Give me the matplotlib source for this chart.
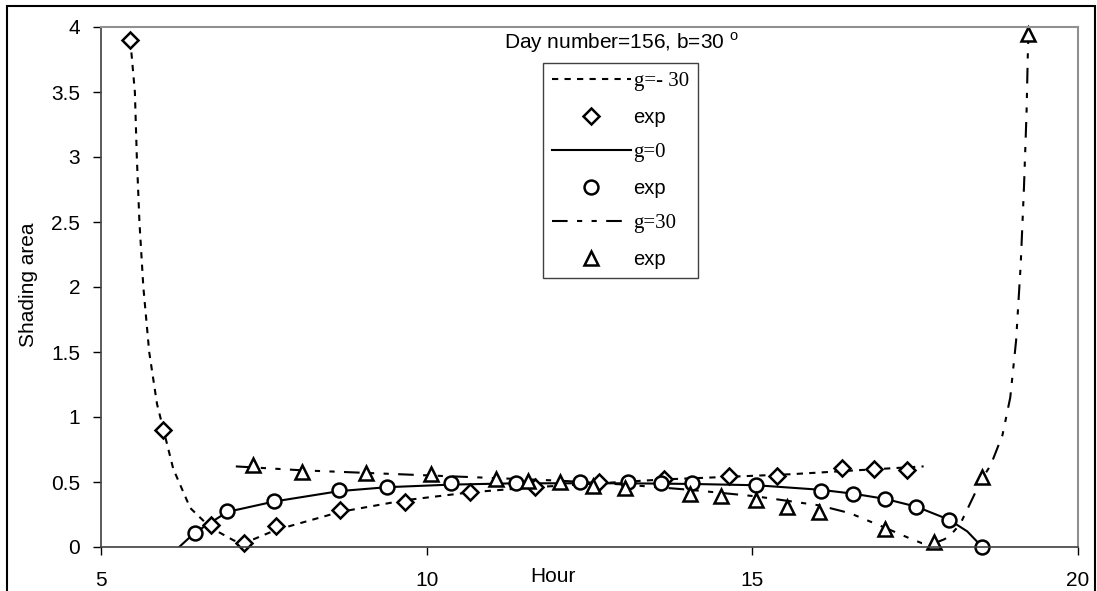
import numpy as np
import matplotlib
matplotlib.use("Agg")
import matplotlib.pyplot as plt
from matplotlib.lines import Line2D
from matplotlib.patches import Rectangle

plt.rcParams['font.family'] = ['Liberation Sans', 'DejaVu Sans']
plt.rcParams['mathtext.fontset'] = 'custom'
plt.rcParams['mathtext.rm'] = 'Liberation Sans'

hour_dia = [5.45, 5.95, 6.69, 7.19, 7.68, 8.67, 9.67, 10.66, 11.66, 12.65,
            13.65, 14.64, 15.38, 16.38, 16.87, 17.38]
exp_dia = [3.9, 0.9, 0.17, 0.03, 0.16, 0.285, 0.35, 0.425, 0.465, 0.497,
           0.525, 0.55, 0.545, 0.605, 0.60, 0.59]

hour_cir = [6.44, 6.94, 7.66, 8.66, 9.39, 10.38, 11.37, 12.36, 13.09, 13.6,
            14.07, 15.06, 16.05, 16.55, 17.04, 17.52, 18.02, 18.53]
exp_cir = [0.11, 0.28, 0.356, 0.438, 0.464, 0.49, 0.495, 0.497, 0.50, 0.495,
           0.49, 0.475, 0.43, 0.405, 0.37, 0.31, 0.21, 0.0]

hour_tri = [7.33, 8.08, 9.07, 10.06, 11.06, 11.55, 12.05, 12.55, 13.04, 14.04,
            14.52, 15.05, 15.53, 16.03, 17.03, 17.79, 18.53, 19.24]
exp_tri = [0.63, 0.58, 0.57, 0.56, 0.52, 0.51, 0.50, 0.47, 0.455, 0.41,
           0.39, 0.36, 0.31, 0.27, 0.14, 0.04, 0.54, 3.95]

# ---- model curves ----
hour_m30 = [5.45, 5.52, 5.55, 5.59, 5.65, 5.74, 5.86, 5.96, 6.11, 6.37, 6.68,
            7.04, 7.2, 7.68, 8.67, 9.67, 10.66, 11.66, 12.65, 13.65, 14.64,
            15.6, 16.6, 17.63]
sh_m30 = [3.9, 3.5, 3.0, 2.5, 2.0, 1.5, 1.1, 0.9, 0.6, 0.3, 0.15,
          0.05, 0.03, 0.13, 0.27, 0.36, 0.42, 0.46, 0.49, 0.52, 0.54,
          0.56, 0.59, 0.62]

hour_0 = [6.2, 6.44, 6.94, 7.66, 8.66, 9.39, 10.38, 11.37, 12.36, 13.09,
          14.07, 15.06, 16.05, 16.55, 17.04, 17.52, 18.02, 18.3, 18.53]
sh_0 = [0.0, 0.11, 0.27, 0.35, 0.43, 0.46, 0.48, 0.49, 0.49, 0.49,
        0.485, 0.475, 0.44, 0.41, 0.37, 0.31, 0.21, 0.12, 0.0]

hour_p30 = [7.07, 8.08, 9.07, 10.06, 11.06, 12.05, 13.04, 14.04, 15.05, 16.03,
            16.5, 17.03, 17.4, 17.6, 17.8, 17.95, 18.04, 18.19, 18.32, 18.52,
            18.66, 18.84, 18.96, 19.05, 19.12, 19.17, 19.21, 19.23, 19.24]
sh_p30 = [0.62, 0.59, 0.57, 0.55, 0.53, 0.51, 0.48, 0.44, 0.39, 0.32,
          0.26, 0.15, 0.07, 0.03, 0.03, 0.06, 0.09, 0.175, 0.31, 0.52,
          0.63, 0.86, 1.15, 1.59, 2.17, 2.76, 3.34, 3.8, 3.95]

ls_m30 = (0, (3, 3))
ls_p30 = (0, (7.5, 4.5, 2.5, 4.5, 2.5, 4.5))
fs = 15

fig = plt.figure(figsize=(10.97, 5.91), dpi=100)
ax = fig.add_axes([101 / 1097, 1 - 547 / 591, (1078 - 101) / 1097, (547 - 27) / 591])

lw = 1.5
ax.plot(hour_m30, sh_m30, color='black', lw=lw, linestyle=ls_m30)
ax.plot(hour_0, sh_0, color='black', lw=lw)
ax.plot(hour_p30, sh_p30, color='black', lw=lw, linestyle=ls_p30)

mk = dict(linestyle='none', mfc='white', mec='black', mew=1.8)
ax.plot(hour_dia, exp_dia, marker='D', ms=8, clip_on=False, **mk)
ax.plot(hour_cir, exp_cir, marker='o', ms=10, clip_on=False, **mk)
ax.plot(hour_tri, exp_tri, marker='^', ms=10, clip_on=False, **mk)

ax.set_xlim(5, 20)
ax.set_ylim(0, 4)
ax.set_xticks([5, 10, 15, 20])
ax.set_yticks([0, 0.5, 1, 1.5, 2, 2.5, 3, 3.5, 4])
ax.set_yticklabels(['0', '0.5', '1', '1.5', '2', '2.5', '3', '3.5', '4'])
ax.tick_params(direction='out', length=6, width=1, labelsize=fs, colors='black')
ax.tick_params(axis='x', pad=11)
ax.tick_params(axis='y', pad=9)
for s in ['left', 'bottom']:
    ax.spines[s].set_color('#404040')
    ax.spines[s].set_linewidth(1.2)
for s in ['top', 'right']:
    ax.spines[s].set_color('#909090')
    ax.spines[s].set_linewidth(1.5)

fig.text(28 / 1097, 1 - 285 / 591, 'Shading area', fontsize=fs, rotation=90,
         ha='center', va='center')
fig.text(553 / 1097, 1 - 577 / 591, 'Hour', fontsize=fs, ha='center', va='center')

fig.text(621 / 1097, 1 - 43 / 591, r'Day number=156, b=30 $^{\mathrm{o}}$',
         fontsize=fs, ha='center', va='center')

handles = [
    Line2D([], [], color='black', lw=lw, linestyle=ls_m30),
    Line2D([], [], marker='D', ms=8, **mk),
    Line2D([], [], color='black', lw=lw),
    Line2D([], [], marker='o', ms=10, **mk),
    Line2D([], [], color='black', lw=lw, linestyle=ls_p30),
    Line2D([], [], marker='^', ms=10, **mk),
]
labels = ['g=- 30', 'exp', 'g=0', 'exp', 'g=30', 'exp']
leg = fig.legend(handles, labels, loc='upper left',
                 bbox_to_anchor=(543 / 1097, 1 - 63 / 591),
                 fontsize=14.5, handlelength=3.9, handletextpad=0.15,
                 labelspacing=0.82, borderpad=0.45, borderaxespad=0,
                 fancybox=False, frameon=True, framealpha=1)
leg.get_frame().set_edgecolor('#404040')
leg.get_frame().set_linewidth(1.0)
for i, t in enumerate(leg.get_texts()):
    if labels[i].startswith('g'):
        t.set_family(['Liberation Serif', 'DejaVu Serif'])
        t.set_fontsize(15)

# outer chart border
fig.patches.append(Rectangle((7 / 1097, -0.02), (1095 - 7) / 1097, 1.02 - 6 / 591,
                             transform=fig.transFigure, fill=False,
                             edgecolor='black', lw=1.5, clip_on=False))

fig.savefig('out.png', dpi=100)
